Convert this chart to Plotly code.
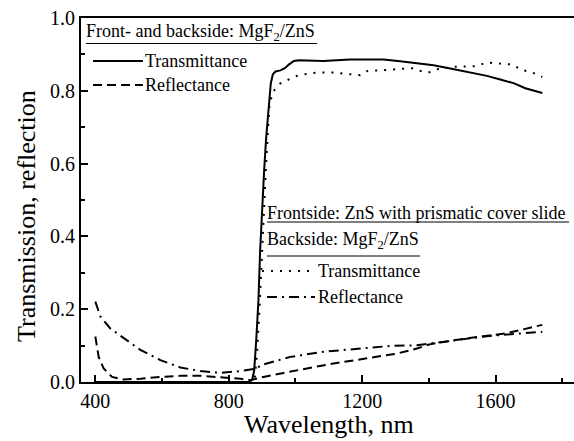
import plotly.graph_objects as go

# Front- and backside MgF2/ZnS coating: transmittance
wl_t1 = [400, 600, 800, 862, 870, 876, 882, 889, 894, 900, 906, 912, 916, 921, 926, 932,
         940, 955, 968, 980, 995, 1010, 1084, 1164, 1264, 1314, 1374, 1414, 1464, 1514,
         1574, 1614, 1654, 1689, 1740]
t1 = [0.0, 0.0, 0.0, 0.0, 0.006, 0.03, 0.11, 0.225, 0.36, 0.48, 0.58, 0.67, 0.72, 0.78,
      0.82, 0.845, 0.853, 0.856, 0.862, 0.872, 0.882, 0.884, 0.882, 0.886, 0.886, 0.881,
      0.875, 0.87, 0.861, 0.852, 0.841, 0.831, 0.821, 0.807, 0.794]

# Front- and backside MgF2/ZnS coating: reflectance
wl_r1 = [400, 410, 425, 450, 485, 535, 595, 655, 715, 775, 835, 865, 904, 964, 1034,
         1114, 1214, 1304, 1364, 1404, 1514, 1574, 1634, 1740]
r1 = [0.125, 0.069, 0.037, 0.014, 0.007, 0.009, 0.014, 0.017, 0.017, 0.014, 0.009, 0.005,
      0.014, 0.025, 0.037, 0.051, 0.065, 0.078, 0.092, 0.104, 0.12, 0.127, 0.134, 0.157]

# ZnS front with prismatic cover slide, MgF2/ZnS back: transmittance
wl_t2 = [400, 600, 800, 870, 878, 885, 892, 898, 905, 912, 918, 922, 932, 954, 982, 1009,
         1064, 1113, 1169, 1194, 1214, 1264, 1314, 1350, 1372, 1398, 1425, 1479, 1533,
         1545, 1572, 1623, 1651, 1678, 1705, 1740]
t2 = [0.0, 0.0, 0.0, 0.0, 0.01, 0.08, 0.2, 0.33, 0.47, 0.6, 0.7, 0.76, 0.797, 0.82, 0.832,
      0.843, 0.85, 0.85, 0.845, 0.843, 0.854, 0.858, 0.86, 0.862, 0.855, 0.85, 0.859,
      0.866, 0.866, 0.868, 0.878, 0.875, 0.872, 0.857, 0.852, 0.838]

# ZnS front with prismatic cover slide, MgF2/ZnS back: reflectance
wl_r2 = [400, 415, 445, 485, 535, 595, 655, 715, 775, 835, 885, 895, 985, 1084, 1184,
         1284, 1364, 1444, 1574, 1740]
r2 = [0.221, 0.18, 0.147, 0.12, 0.088, 0.06, 0.04, 0.03, 0.025, 0.03, 0.037, 0.046, 0.069,
      0.083, 0.092, 0.099, 0.101, 0.11, 0.126, 0.138]

x_ticks = [400, 800, 1200, 1600]
y_ticks = [0.0, 0.2, 0.4, 0.6, 0.8, 1.0]

FONT = "Liberation Serif"
W, H = 574, 441
L, R, T, B = 81, 0, 18, 59

DASH = "9px,5px"
DOT = "2px,7px"
DASHDOT = "10px,5px,2px,5px"


def px(x):
    return (x - L) / (W - L - R)


def py(y):
    return (H - B - y) / (H - B - T)


fig = go.Figure()
lw = 2
fig.add_trace(go.Scatter(x=wl_t1, y=t1, mode="lines", line=dict(color="black", width=lw),
                         showlegend=False))
fig.add_trace(go.Scatter(x=wl_r1, y=r1, mode="lines",
                         line=dict(color="black", width=lw, dash=DASH), showlegend=False))
fig.add_trace(go.Scatter(x=wl_t2, y=t2, mode="lines",
                         line=dict(color="black", width=lw, dash=DOT), showlegend=False))
fig.add_trace(go.Scatter(x=wl_r2, y=r2, mode="lines",
                         line=dict(color="black", width=lw, dash=DASHDOT), showlegend=False))

annotations = []
shapes = []


def label(text, x, y, size=18):
    annotations.append(dict(text=text, x=px(x), y=py(y), xref="paper", yref="paper",
                            xanchor="left", yanchor="middle", showarrow=False,
                            font=dict(family=FONT, size=size, color="black")))


def hline(x0, x1, y, dash="solid", width=1.5):
    shapes.append(dict(type="line", xref="paper", yref="paper", x0=px(x0), x1=px(x1),
                       y0=py(y), y1=py(y), line=dict(color="black", width=width, dash=dash)))


# first key
label("Front- and backside: MgF<sub>2</sub>/ZnS", 84, 33)
hline(86, 317, 43.5, width=1.2)
hline(93, 143, 61, width=lw)
label("Transmittance", 143, 61)
hline(93, 143, 85, dash=DASH, width=lw)
label("Reflectance", 143, 85)

# second key
label("Frontside: ZnS with prismatic cover slide", 265, 213)
hline(267, 569, 222, width=1.2)
label("Backside: MgF<sub>2</sub>/ZnS", 265, 240)
hline(267, 420, 256, width=1.2)
hline(262, 315, 271, dash=DOT, width=lw)
label("Transmittance", 316, 271)
hline(267, 315, 297, dash=DASHDOT, width=lw)
label("Reflectance", 316, 297)

# axis titles
annotations.append(dict(text="Wavelength, nm", x=px(329), y=py(424), xref="paper",
                        yref="paper", xanchor="center", yanchor="middle", showarrow=False,
                        font=dict(family=FONT, size=26, color="black")))
annotations.append(dict(text="Transmission, reflection", x=px(26), y=py(216), xref="paper",
                        yref="paper", xanchor="center", yanchor="middle", showarrow=False,
                        textangle=-90, font=dict(family=FONT, size=26, color="black")))

fig.update_layout(
    width=W, height=H,
    margin=dict(l=L, r=R, t=T, b=B, pad=0),
    paper_bgcolor="white", plot_bgcolor="white",
    font=dict(family=FONT, size=20, color="black"),
    annotations=annotations, shapes=shapes,
)
fig.update_xaxes(
    range=[357, 1835], tickvals=x_ticks, ticks="inside", ticklen=7, tickwidth=1.5,
    tickcolor="black", showline=True, linewidth=2, linecolor="black", mirror=True,
    showgrid=False, zeroline=False, tickfont=dict(family=FONT, size=20),
    minor=dict(tickvals=[600, 1000, 1400, 1800], ticks="inside", ticklen=4,
               tickwidth=1.5, tickcolor="black"),
)
fig.update_yaxes(
    range=[0, 1.0], tickvals=y_ticks, tickformat=".1f", ticks="inside", ticklen=7,
    tickwidth=1.5, tickcolor="black", showline=True, linewidth=2, linecolor="black",
    mirror=False, showgrid=False, zeroline=False, tickfont=dict(family=FONT, size=20),
    minor=dict(tickvals=[0.1, 0.3, 0.5, 0.7, 0.9], ticks="inside", ticklen=4,
               tickwidth=1.5, tickcolor="black"),
)

fig.write_html("out.html")
